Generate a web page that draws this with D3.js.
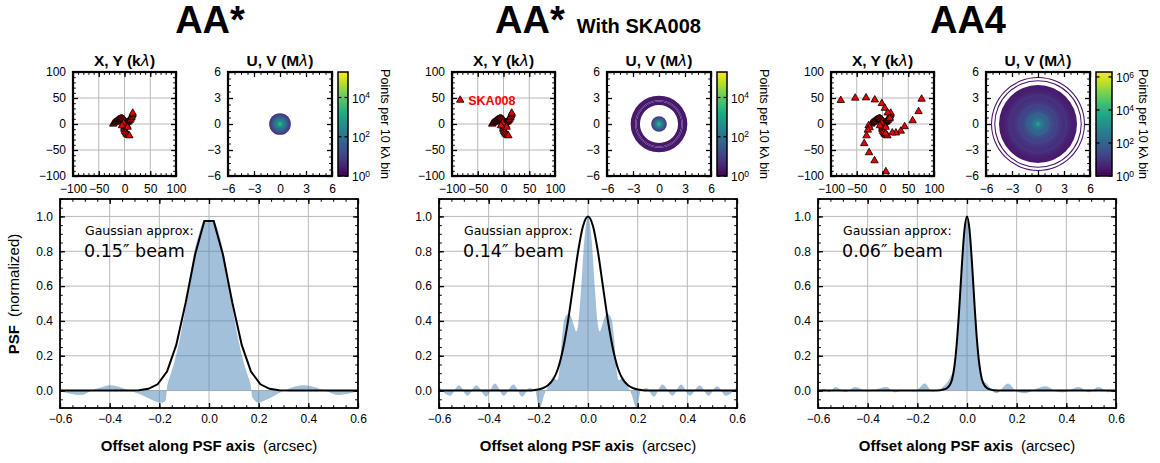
<!DOCTYPE html>
<html>
<head>
<meta charset="utf-8">
<script src="https://cdn.jsdelivr.net/npm/d3@7"></script>
<style>
  body { margin: 0; background: #fff; }
  svg { display: block; }
</style>
</head>
<body>
<div id="chart"></div>
<script>
// ---- data ----
const panelTitles = ["AA*", "AA*", "AA4"];
const panelSubtitles = [null, "With SKA008", null];
const beamLabels = ["0.15\u2033 beam", "0.14\u2033 beam", "0.06\u2033 beam"];

// antenna positions (k\u03bb)
const aaStarStations = [
  [-22, 0], [-20, 2], [-18, 3.5], [-16, 5], [-14, 6.5], [-12, 8], [-10, 9], [-8, 10], [-6, 10.3],
  [-4, 10], [-2, 9], [-0.5, 7.5], [0.5, 5],
  [2, 1], [4, 2.5], [6, 3.5], [8, 5], [10, 7], [12, 9.5], [13.5, 12.5], [14.5, 15.5], [15.5, 18.5], [16, 21],
  [1, -2], [0, -5], [-0.5, -8], [0, -11], [1, -14], [2.5, -17], [4.5, -19.5], [7, -21.5], [9.5, -22.5],
  [3, -1], [5, -3], [-2, 2], [6, -6], [-5, -3]
];
const ska008Station = [-84, 46];
const aa4OuterStations = [
  [-81, 45.5], [-53, 50], [-32, 50.5], [-15, 46.5], [-1.3, 39.5], [4.5, 30.5], [10, 21.5], [14, 11],
  [76, 48], [70, 24], [58.5, 6.5], [43, -5], [35.5, -13.5], [26, -17], [19, -17], [6, -18.5],
  [-27, -3], [-25, -7], [-28.5, -11.5], [-31, -22.5], [-35.5, -37.5], [-26, -55], [-15.5, -70.5], [6.5, -91.5]
];

// uv density: [radius M\u03bb, log10 points per bin]
const aaStarUvCore = [[0, 3.9], [0.12, 3.3], [0.3, 2.7], [0.5, 2.2], [0.75, 1.7], [1.0, 1.2], [1.25, 0.7]];
const aaStarUvRings = [];
const ska008UvCore = [[0, 3.9], [0.12, 3.2], [0.3, 2.5], [0.5, 1.9], [0.7, 1.3], [0.9, 0.8]];
const ska008UvRings = [[2.2, 2.6, 0.35], [2.6, 2.75, 0.6], [2.75, 3.27, 0.35]];
const aa4UvCore = [[0, 4.6], [0.1, 3.5], [0.3, 2.8], [0.6, 2.3], [1.0, 1.9], [1.2, 2.0], [1.4, 1.6], [2.0, 1.2],
  [2.2, 1.35], [2.4, 1.05], [3.0, 0.8], [3.3, 0.95], [3.5, 0.7], [4.0, 0.5], [4.5, 0.4]];
const aa4UvRings = [[4.93, 5.05, 0.3], [5.3, 5.42, 0.3]];
const colorbarMax = [5.3, 5.3, 6.3];
const colorbarTicks = [[0, 2, 4], [0, 2, 4], [0, 2, 4, 6]];

// PSF cuts: [offset arcsec, normalized PSF]
const aaStarGauss = [[-0.6, 0], [-0.32, 0], [-0.282, 0.002], [-0.244, 0.01], [-0.207, 0.036], [-0.169, 0.109],
  [-0.132, 0.261], [-0.094, 0.504], [-0.056, 0.781], [-0.019, 0.973], [0.019, 0.973], [0.056, 0.781],
  [0.094, 0.504], [0.132, 0.261], [0.169, 0.109], [0.207, 0.036], [0.244, 0.01], [0.282, 0.002], [0.32, 0], [0.6, 0]];
const aaStarPsf = [[-0.6, -0.003], [-0.56, -0.018], [-0.51, -0.025], [-0.474, 0], [-0.43, 0.02], [-0.4, 0.03],
  [-0.36, 0.02], [-0.32, 0], [-0.28, -0.02], [-0.25, -0.04], [-0.22, -0.06], [-0.19, -0.07], [-0.175, -0.06],
  [-0.168, 0.03], [-0.16, 0.07], [-0.14, 0.16], [-0.12, 0.28], [-0.1, 0.43], [-0.08, 0.61], [-0.06, 0.79],
  [-0.04, 0.9], [-0.019, 0.973], [0, 0.975], [0.019, 0.973], [0.04, 0.9], [0.06, 0.78], [0.08, 0.61], [0.1, 0.43],
  [0.12, 0.28], [0.14, 0.16], [0.16, 0.07], [0.168, 0.03], [0.175, -0.04], [0.2, -0.07], [0.22, -0.06],
  [0.25, -0.04], [0.28, -0.015], [0.305, 0], [0.34, 0.02], [0.385, 0.03], [0.43, 0.017], [0.466, 0],
  [0.52, -0.025], [0.56, -0.018], [0.6, -0.003]];

const ska008Gauss = [[-0.6, 0], [-0.26, 0], [-0.24, 0.0005], [-0.22, 0.002], [-0.2, 0.006], [-0.18, 0.015],
  [-0.16, 0.032], [-0.14, 0.065], [-0.12, 0.13], [-0.1, 0.243], [-0.08, 0.404], [-0.06, 0.6], [-0.04, 0.797],
  [-0.02, 0.945], [0, 1], [0.02, 0.945], [0.04, 0.797], [0.06, 0.6], [0.08, 0.404], [0.1, 0.243], [0.12, 0.13],
  [0.14, 0.065], [0.16, 0.032], [0.18, 0.015], [0.2, 0.006], [0.22, 0.002], [0.24, 0.0005], [0.26, 0], [0.6, 0]];
const ska008Psf = [[-0.6, 0.02], [-0.555, -0.03], [-0.52, 0.03], [-0.485, -0.03], [-0.45, 0.03], [-0.41, -0.035],
  [-0.375, 0.04], [-0.34, -0.03], [-0.3, 0.035], [-0.265, -0.035], [-0.235, 0.015], [-0.213, 0], [-0.195, -0.1],
  [-0.175, -0.02], [-0.155, 0.04], [-0.14, 0.08], [-0.125, 0.06], [-0.115, 0.12], [-0.105, 0.3], [-0.095, 0.41],
  [-0.08, 0.44], [-0.07, 0.43], [-0.058, 0.38], [-0.047, 0.34], [-0.038, 0.4], [-0.028, 0.58], [-0.015, 0.86],
  [0, 1], [0.015, 0.86], [0.028, 0.58], [0.038, 0.4], [0.047, 0.34], [0.058, 0.38], [0.07, 0.43], [0.08, 0.44],
  [0.095, 0.41], [0.105, 0.3], [0.115, 0.12], [0.125, 0.06], [0.14, 0.08],
  [0.155, 0.04], [0.175, -0.02], [0.195, -0.1], [0.213, 0], [0.235, 0.015], [0.265, -0.035], [0.3, 0.035],
  [0.34, -0.03], [0.375, 0.035], [0.41, -0.03], [0.45, 0.03], [0.485, -0.03], [0.52, 0.025], [0.555, -0.03], [0.6, 0.02]];

const aa4Gauss = [[-0.6, 0], [-0.13, 0], [-0.11, 0.002], [-0.1, 0.004], [-0.09, 0.008], [-0.08, 0.015], [-0.07, 0.03],
  [-0.06, 0.065], [-0.05, 0.146], [-0.04, 0.292], [-0.03, 0.5], [-0.02, 0.735], [-0.01, 0.926], [0, 1],
  [0.01, 0.926], [0.02, 0.735], [0.03, 0.5], [0.04, 0.292], [0.05, 0.146], [0.06, 0.065], [0.07, 0.03],
  [0.08, 0.015], [0.09, 0.008], [0.1, 0.004], [0.11, 0.002], [0.13, 0], [0.6, 0]];
const aa4Psf = [[-0.6, 0], [-0.575, 0.01], [-0.555, -0.01], [-0.53, 0.02], [-0.49, -0.01], [-0.45, 0.02],
  [-0.4, -0.005], [-0.325, 0.02], [-0.29, -0.01], [-0.25, 0.005], [-0.21, -0.005], [-0.17, 0.04], [-0.14, -0.005],
  [-0.12, 0], [-0.09, 0.03], [-0.07, 0.07], [-0.05, 0.15], [-0.04, 0.28], [-0.03, 0.48], [-0.02, 0.72],
  [-0.01, 0.93], [0, 1], [0.01, 0.93], [0.02, 0.72], [0.03, 0.48], [0.04, 0.28], [0.05, 0.13], [0.065, 0.06],
  [0.08, 0.04], [0.1, 0], [0.12, -0.015], [0.165, 0.04], [0.2, -0.005], [0.235, -0.015], [0.27, 0.005],
  [0.317, 0.025], [0.36, -0.005], [0.39, -0.01], [0.45, 0.02], [0.49, -0.01], [0.53, 0.02], [0.57, -0.01], [0.6, 0]];

// ---- layout ----
const W = 1160, H = 463;
const FONT = "'Liberation Sans', Arial, sans-serif";
const DJV = "'DejaVu Sans', sans-serif";
const panelLefts = [60, 439, 818];

const panels = [
  { stations: aaStarStations, flag: null, core: aaStarUvCore, rings: aaStarUvRings, gauss: aaStarGauss, psf: aaStarPsf, cbarW: 10 },
  { stations: aaStarStations, flag: ska008Station, core: ska008UvCore, rings: ska008UvRings, gauss: ska008Gauss, psf: ska008Psf, cbarW: 10 },
  { stations: aaStarStations.concat(aa4OuterStations), flag: null, core: aa4UvCore, rings: aa4UvRings, gauss: aa4Gauss, psf: aa4Psf, cbarW: 16 }
];

const svg = d3.select("#chart").append("svg").attr("width", W).attr("height", H)
  .style("font-family", FONT);
const defs = svg.append("defs");

function inwardAxes(g, x, y, w, h, cfg) {
  const parts = [
    [d3.axisBottom, x, `translate(0,${h})`, cfg.xMajor, cfg.xMinor, cfg.fmtX, cfg.padX],
    [d3.axisTop, x, `translate(0,0)`, cfg.xMajor, cfg.xMinor, null, 0],
    [d3.axisLeft, y, `translate(0,0)`, cfg.yMajor, cfg.yMinor, cfg.fmtY, cfg.padY],
    [d3.axisRight, y, `translate(${w},0)`, cfg.yMajor, cfg.yMinor, null, 0]
  ];
  parts.forEach(([axisFn, sc, tr, major, minor, fmt, pad]) => {
    g.append("g").attr("transform", tr)
      .call(axisFn(sc).tickValues(minor).tickSizeInner(-cfg.minLen).tickSizeOuter(0).tickFormat(""))
      .call(a => a.select(".domain").remove())
      .call(a => a.selectAll("line").attr("stroke", "#000").attr("stroke-width", 1));
    g.append("g").attr("transform", tr)
      .call(axisFn(sc).tickValues(major).tickSizeInner(-cfg.majLen).tickSizeOuter(0)
        .tickPadding(pad).tickFormat(fmt ? fmt : ""))
      .call(a => a.select(".domain").remove())
      .call(a => a.selectAll("line").attr("stroke", "#000").attr("stroke-width", 1.3))
      .call(a => a.selectAll("text").attr("fill", "#000").style("font-family", FONT).style("font-size", "12px"))
      .attr("font-family", null).attr("font-size", null);
  });
  g.append("rect").attr("width", w).attr("height", h)
    .attr("fill", "none").attr("stroke", "#000").attr("stroke-width", cfg.frame);
}

const fmtInt = d3.format("d");
const fmt1 = d3.format(".1f");
const xyMinor = d3.scaleLinear().domain([-100, 100]).ticks(20);
const uvMinor = d3.range(-6, 6.001, 0.75);

panels.forEach((p, i) => {
  const L = panelLefts[i];
  const pg = svg.append("g");

  // title
  const title = pg.append("text")
    .attr("x", i === 1 ? L + 159 : L + 150).attr("y", 33)
    .attr("text-anchor", "middle").attr("font-weight", "bold");
  title.append("tspan").attr("font-size", "38px").text(panelTitles[i]);
  if (panelSubtitles[i]) {
    title.append("tspan").attr("font-size", "20px").attr("dx", 12).text(panelSubtitles[i]);
  }

  // ---- X, Y panel ----
  const xyW = 103, xyH = 104;
  const xg = pg.append("g").attr("transform", `translate(${L + 13},72)`);
  const xx = d3.scaleLinear().domain([-100, 100]).range([0, xyW]);
  const xy = d3.scaleLinear().domain([-100, 100]).range([xyH, 0]);
  xg.append("g").selectAll("line.gx").data([-50, 0, 50]).join("line")
    .attr("x1", d => xx(d)).attr("x2", d => xx(d)).attr("y1", 0).attr("y2", xyH)
    .attr("stroke", "#b8b8b8").attr("stroke-width", 1);
  xg.append("g").selectAll("line.gy").data([-50, 0, 50]).join("line")
    .attr("y1", d => xy(d)).attr("y2", d => xy(d)).attr("x1", 0).attr("x2", xyW)
    .attr("stroke", "#b8b8b8").attr("stroke-width", 1);
  const tri = d3.symbol().type(d3.symbolTriangle).size(24);
  const allSt = p.flag ? p.stations.concat([p.flag]) : p.stations;
  xg.append("g").selectAll("path").data(allSt).join("path")
    .attr("d", tri).attr("transform", d => `translate(${xx(d[0])},${xy(d[1])})`)
    .attr("fill", "#e80000").attr("stroke", "#000").attr("stroke-width", 0.8);
  if (p.flag) {
    xg.append("text").attr("x", xx(p.flag[0]) + 8).attr("y", xy(p.flag[1]) + 4.5)
      .attr("fill", "#ff0000").attr("font-weight", "bold").attr("font-size", "12.5px").text("SKA008");
  }
  inwardAxes(xg, xx, xy, xyW, xyH, {
    xMajor: [-100, -50, 0, 50, 100], yMajor: [-100, -50, 0, 50, 100], xMinor: xyMinor, yMinor: xyMinor,
    fmtX: fmtInt, fmtY: fmtInt, majLen: 5, minLen: 2.8, padX: 8, padY: 7, frame: 2.2
  });
  const t1 = xg.append("text").attr("x", xyW / 2).attr("y", -6).attr("text-anchor", "middle")
    .attr("font-weight", "bold").attr("font-size", "15.5px");
  t1.append("tspan").text("X, Y (k");
  t1.append("tspan").attr("font-weight", "normal").attr("font-style", "italic").attr("font-family", DJV).text("\u03bb");
  t1.append("tspan").text(")");

  // ---- U, V panel ----
  const uvW = 104, uvH = 104;
  const ug = pg.append("g").attr("transform", `translate(${L + 168},72)`);
  const ux = d3.scaleLinear().domain([-6, 6]).range([0, uvW]);
  const uy = d3.scaleLinear().domain([-6, 6]).range([uvH, 0]);
  const cmax = colorbarMax[i];
  const color = d3.scaleSequential(d3.interpolateViridis).domain([0, cmax]);
  const rpx = r => ux(r) - ux(0);
  const ringArc = d3.arc().startAngle(0).endAngle(2 * Math.PI);
  ug.append("g").selectAll("path").data(p.rings).join("path")
    .attr("transform", `translate(${ux(0)},${uy(0)})`)
    .attr("d", d => ringArc({ innerRadius: rpx(d[0]), outerRadius: rpx(d[1]) }))
    .attr("fill", d => color(d[2]));
  const rMax = p.core[p.core.length - 1][0];
  const grad = defs.append("radialGradient").attr("id", `uvgrad${i}`)
    .attr("gradientUnits", "userSpaceOnUse")
    .attr("cx", ux(0)).attr("cy", uy(0)).attr("r", rpx(rMax));
  grad.selectAll("stop").data(p.core).join("stop")
    .attr("offset", d => d[0] / rMax).attr("stop-color", d => color(d[1]));
  ug.append("circle").attr("cx", ux(0)).attr("cy", uy(0)).attr("r", rpx(rMax))
    .attr("fill", `url(#uvgrad${i})`);
  inwardAxes(ug, ux, uy, uvW, uvH, {
    xMajor: [-6, -3, 0, 3, 6], yMajor: [-6, -3, 0, 3, 6], xMinor: uvMinor, yMinor: uvMinor,
    fmtX: fmtInt, fmtY: fmtInt, majLen: 5, minLen: 2.8, padX: 8, padY: 7, frame: 2.2
  });
  const t2 = ug.append("text").attr("x", uvW / 2).attr("y", -6).attr("text-anchor", "middle")
    .attr("font-weight", "bold").attr("font-size", "15.5px");
  t2.append("tspan").text("U, V (M");
  t2.append("tspan").attr("font-weight", "normal").attr("font-style", "italic").attr("font-family", DJV).text("\u03bb");
  t2.append("tspan").text(")");

  // ---- colorbar ----
  const cg = pg.append("g").attr("transform", `translate(${L + 278},72)`);
  const cy = d3.scaleLinear().domain([0, cmax]).range([uvH, 0]);
  const cgrad = defs.append("linearGradient").attr("id", `cbar${i}`)
    .attr("x1", 0).attr("x2", 0).attr("y1", 1).attr("y2", 0);
  cgrad.selectAll("stop").data(d3.range(0, 1.0001, 0.1)).join("stop")
    .attr("offset", d => d).attr("stop-color", d => d3.interpolateViridis(d));
  cg.append("rect").attr("width", p.cbarW).attr("height", uvH).attr("fill", `url(#cbar${i})`);
  cg.append("g").selectAll("line.l").data(colorbarTicks[i]).join("line")
    .attr("x1", 0).attr("x2", 3.5).attr("y1", d => cy(d)).attr("y2", d => cy(d))
    .attr("stroke", "#000").attr("stroke-width", 1.3);
  cg.append("g").selectAll("line.r").data(colorbarTicks[i]).join("line")
    .attr("x1", p.cbarW - 3.5).attr("x2", p.cbarW).attr("y1", d => cy(d)).attr("y2", d => cy(d))
    .attr("stroke", "#000").attr("stroke-width", 1.3);
  cg.append("rect").attr("width", p.cbarW).attr("height", uvH)
    .attr("fill", "none").attr("stroke", "#000").attr("stroke-width", 1.5);
  const lab = cg.append("g").selectAll("text").data(colorbarTicks[i]).join("text")
    .attr("x", p.cbarW + 4).attr("y", d => cy(d)).attr("dy", "0.45em").attr("font-size", "12px");
  lab.append("tspan").text("10");
  lab.append("tspan").attr("dy", "-0.55em").attr("font-size", "8.5px").text(d => d);
  cg.append("text")
    .attr("transform", `translate(${p.cbarW + 37 - (p.cbarW - 10)},${uvH / 2}) rotate(90)`)
    .attr("text-anchor", "middle").attr("dy", "0.35em").attr("font-size", "12.5px")
    .text("Points per 10 k\u03bb bin");

  // ---- PSF cut ----
  const pw = 298, ph = 209;
  const gg = pg.append("g").attr("transform", `translate(${L},199)`);
  const px = d3.scaleLinear().domain([-0.6, 0.6]).range([0, pw]);
  const py = d3.scaleLinear().domain([-0.1, 1.1]).range([ph, 0]);
  const psfMajorX = [-0.6, -0.4, -0.2, 0, 0.2, 0.4, 0.6];
  const psfMajorY = [0, 0.2, 0.4, 0.6, 0.8, 1.0];
  gg.append("g").selectAll("line").data([-0.4, -0.2, 0, 0.2, 0.4]).join("line")
    .attr("x1", d => px(d)).attr("x2", d => px(d)).attr("y1", 0).attr("y2", ph)
    .attr("stroke", "#b8b8b8").attr("stroke-width", 1);
  gg.append("g").selectAll("line").data(psfMajorY).join("line")
    .attr("y1", d => py(d)).attr("y2", d => py(d)).attr("x1", 0).attr("x2", pw)
    .attr("stroke", "#b8b8b8").attr("stroke-width", 1);
  gg.append("path").datum(p.psf)
    .attr("d", d3.area().x(d => px(d[0])).y0(py(0)).y1(d => py(d[1])).curve(d3.curveMonotoneX))
    .attr("fill", "#4682b4").attr("fill-opacity", 0.5);
  gg.append("path").datum(p.gauss)
    .attr("d", d3.line().x(d => px(d[0])).y(d => py(d[1])).curve(i === 0 ? d3.curveLinear : d3.curveMonotoneX))
    .attr("fill", "none").attr("stroke", "#000").attr("stroke-width", 2);
  inwardAxes(gg, px, py, pw, ph, {
    xMajor: psfMajorX, yMajor: psfMajorY,
    xMinor: px.ticks(24), yMinor: py.ticks(24),
    fmtX: fmt1, fmtY: fmt1, majLen: 5, minLen: 2.8, padX: 6, padY: 7, frame: 1.8
  });
  gg.append("text").attr("x", 25).attr("y", 36).attr("font-family", DJV).attr("font-size", "12.5px")
    .text("Gaussian approx:");
  gg.append("text").attr("x", 24).attr("y", 57.5).attr("font-family", DJV).attr("font-size", "17.5px")
    .text(beamLabels[i]);
  const xl = gg.append("text").attr("x", pw / 2).attr("y", 252).attr("text-anchor", "middle").attr("font-size", "15px");
  xl.append("tspan").attr("font-weight", "bold").text("Offset along PSF axis");
  xl.append("tspan").attr("dx", 8).text("(arcsec)");
});

// shared y label
const yl = svg.append("text").attr("transform", "translate(19,294) rotate(-90)")
  .attr("text-anchor", "middle").attr("font-size", "15px");
yl.append("tspan").attr("font-weight", "bold").text("PSF");
yl.append("tspan").attr("dx", 8).text("(normalized)");
</script>
</body>
</html>
